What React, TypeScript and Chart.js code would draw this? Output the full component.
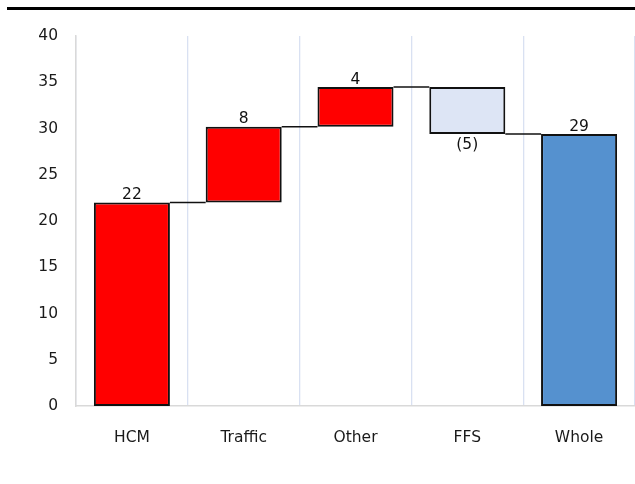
import React, { useEffect, useRef } from "react";
import { Chart, registerables } from "chart.js";

Chart.register(...registerables);

const categories = ["HCM", "Traffic", "Other", "FFS", "Whole"];
const changes = [22.0, 8.2, 4.3, -5.1];
const totalValue = 29.4;
const barLabels = ["22", "8", "4", "(5)", "29"];
const barColors = ["#ff0000", "#ff0000", "#ff0000", "#dde5f5", "#5591cf"];
const yMin = 0;
const yMax = 40;
const yStep = 5;

const FONT = "'DejaVu Sans', sans-serif";

function buildRanges(): [number, number][] {
  const out: [number, number][] = [];
  let run = 0;
  changes.forEach((c) => {
    out.push([run, run + c]);
    run += c;
  });
  out.push([0, totalValue]);
  return out;
}

const ranges = buildRanges();

const waterfallPlugin = {
  id: "waterfallExtras",
  afterDatasetsDraw(chart: any) {
    const ctx = chart.ctx;
    const meta = chart.getDatasetMeta(0);
    const y = chart.scales.y;
    ctx.save();
    ctx.strokeStyle = "#111";
    ctx.lineWidth = 1.5;
    for (let i = 0; i < ranges.length - 1; i++) {
      const a = meta.data[i];
      const b = meta.data[i + 1];
      const level = ranges[i][1];
      const py = y.getPixelForValue(level);
      ctx.beginPath();
      ctx.moveTo(a.x + a.width / 2, py);
      ctx.lineTo(b.x - b.width / 2, py);
      ctx.stroke();
    }
    ctx.fillStyle = "#111";
    ctx.font = `15.5px ${FONT}`;
    ctx.textAlign = "center";
    ranges.forEach((r, i) => {
      const el = meta.data[i];
      const hi = Math.max(r[0], r[1]);
      const lo = Math.min(r[0], r[1]);
      if (r[1] < r[0]) {
        ctx.textBaseline = "top";
        ctx.fillText(barLabels[i], el.x, y.getPixelForValue(lo) + 3);
      } else {
        ctx.textBaseline = "bottom";
        ctx.fillText(barLabels[i], el.x, y.getPixelForValue(hi) + 0.5);
      }
    });
    ctx.restore();
  },
};

export default function App() {
  const ref = useRef<HTMLCanvasElement | null>(null);
  useEffect(() => {
    document.body.style.margin = "0";
    if (!ref.current) return;
    const chart = new Chart(ref.current, {
      type: "bar",
      data: {
        labels: categories,
        datasets: [
          {
            data: ranges as any,
            backgroundColor: barColors,
            borderColor: "#111",
            borderWidth: 2,
            borderSkipped: false,
            barPercentage: 0.68,
            categoryPercentage: 1,
          },
        ],
      },
      options: {
        animation: false,
        responsive: true,
        maintainAspectRatio: false,
        layout: { padding: { top: 36, right: 0, left: 0, bottom: 0 } },
        plugins: { legend: { display: false }, tooltip: { enabled: false } },
        scales: {
          x: {
            grid: { display: true, color: "#d9e1f2", lineWidth: 1.3, offset: true, drawTicks: false },
            border: { display: true, color: "#d9d9d9", width: 1.5 },
            ticks: { color: "#1a1a1a", font: { family: FONT, size: 15.5 }, padding: 23 },
            afterFit: (s: any) => {
              s.height = 78;
            },
          },
          y: {
            min: yMin,
            max: yMax,
            grid: { display: false, drawTicks: false },
            border: { display: true, color: "#d9d9d9", width: 1.5 },
            ticks: { stepSize: yStep, color: "#1a1a1a", font: { family: FONT, size: 15.5 }, padding: 18 },
            afterFit: (s: any) => {
              s.width = 76;
            },
          },
        },
      },
      plugins: [waterfallPlugin],
    });
    return () => chart.destroy();
  }, []);
  return (
    <div style={{ position: "relative", width: 635, height: 484, background: "#fff" }}>
      <div style={{ position: "absolute", left: 7, top: 7, width: 628, height: 3, background: "#000" }} />
      <canvas ref={ref} />
    </div>
  );
}
